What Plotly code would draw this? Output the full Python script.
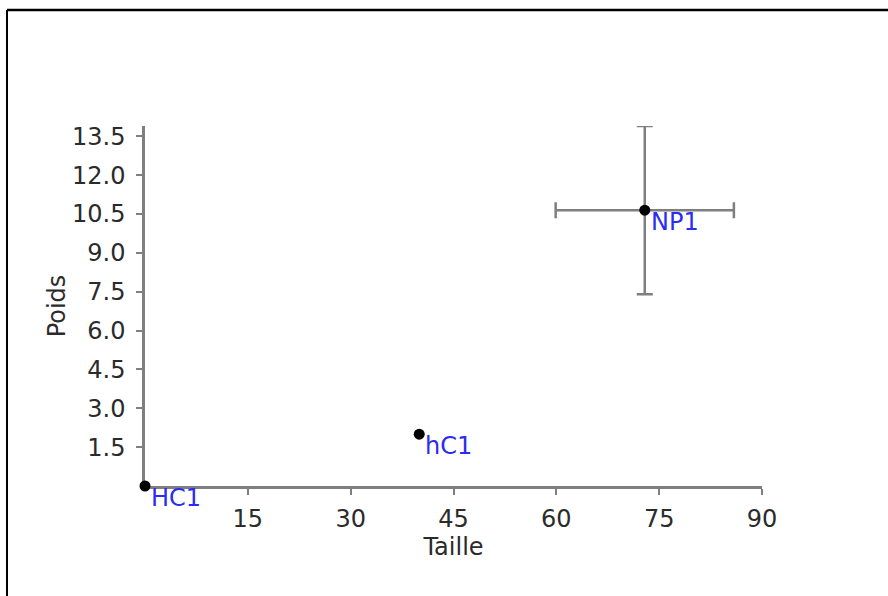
import plotly.graph_objects as go

# ---- data ----
names = ["HC1", "hC1", "NP1"]
taille = [0.0, 40.0, 72.9]
poids = [0.0, 2.0, 10.65]
taille_err = [0.0, 0.0, 13.0]
poids_err = [0.0, 0.0, 3.25]
x_ticks = [15, 30, 45, 60, 75, 90]
y_ticks = [1.5, 3.0, 4.5, 6.0, 7.5, 9.0, 10.5, 12.0, 13.5]

FONT = "DejaVu Sans"
AXIS_GRAY = "#7f7f7f"
TEXT_COL = "#2b2b2b"
LABEL_BLUE = "#2b2bf2"
FS = 24

W, H = 888, 596
L, R, T, B = 145, 126, 126, 110

fig = go.Figure()

# error bars only for points that carry an error
idx = [i for i in range(len(names)) if taille_err[i] > 0 or poids_err[i] > 0]
fig.add_trace(go.Scatter(
    x=[taille[i] for i in idx], y=[poids[i] for i in idx], mode="markers",
    marker=dict(color="rgba(0,0,0,0)", size=1),
    error_x=dict(type="data", array=[taille_err[i] for i in idx], visible=True,
                 color=AXIS_GRAY, thickness=2.5, width=8),
    error_y=dict(type="data", array=[poids_err[i] for i in idx], visible=True,
                 color=AXIS_GRAY, thickness=2.5, width=8),
    cliponaxis=False, showlegend=False, hoverinfo="skip",
))

fig.add_trace(go.Scatter(
    x=taille, y=poids, mode="markers",
    marker=dict(color="black", size=11),
    cliponaxis=False, showlegend=False, hoverinfo="skip",
))

for n, xv, yv in zip(names, taille, poids):
    fig.add_annotation(x=xv, y=yv, text=n, showarrow=False,
                       xanchor="left", yanchor="middle", xshift=4, yshift=-12,
                       font=dict(family=FONT, size=FS, color=LABEL_BLUE))

pw = W - L - R
ph = H - T - B
def px(x):
    return (x - L) / pw
def py(y):
    return (H - B - y) / ph

# outer frame (top and left edges visible)
fig.add_shape(type="line", xref="paper", yref="paper",
              x0=px(7), x1=px(W + 5), y0=py(10), y1=py(10),
              line=dict(color="black", width=2.5))
fig.add_shape(type="line", xref="paper", yref="paper",
              x0=px(7), x1=px(7), y0=py(10), y1=py(H + 5),
              line=dict(color="black", width=2))

fig.update_layout(
    width=W, height=H,
    margin=dict(l=L, r=R, t=T, b=B, autoexpand=False),
    paper_bgcolor="white", plot_bgcolor="white",
    font=dict(family=FONT, size=FS, color=TEXT_COL),
)
fig.update_xaxes(
    range=[0, 90], showgrid=False, zeroline=False, layer="below traces",
    showline=True, linecolor=AXIS_GRAY, linewidth=2.5,
    ticks="outside", ticklen=6, tickwidth=1.5, tickcolor=AXIS_GRAY,
    tickvals=x_ticks, ticktext=[str(v) for v in x_ticks],
    tickfont=dict(family=FONT, size=FS, color=TEXT_COL),
    ticklabelstandoff=3,
    title=dict(text="Taille", standoff=6,
               font=dict(family=FONT, size=FS, color=TEXT_COL)),
)
fig.update_yaxes(
    range=[0, 13.9], showgrid=False, zeroline=False, layer="below traces",
    showline=True, linecolor=AXIS_GRAY, linewidth=2.5,
    ticks="outside", ticklen=6, tickwidth=1.5, tickcolor=AXIS_GRAY,
    tickvals=y_ticks, ticktext=[f"{v:.1f}" for v in y_ticks],
    tickfont=dict(family=FONT, size=FS, color=TEXT_COL),
    ticklabelstandoff=6,
    title=dict(text="Poids", standoff=0,
               font=dict(family=FONT, size=FS, color=TEXT_COL)),
)

fig.write_html("out.html")
